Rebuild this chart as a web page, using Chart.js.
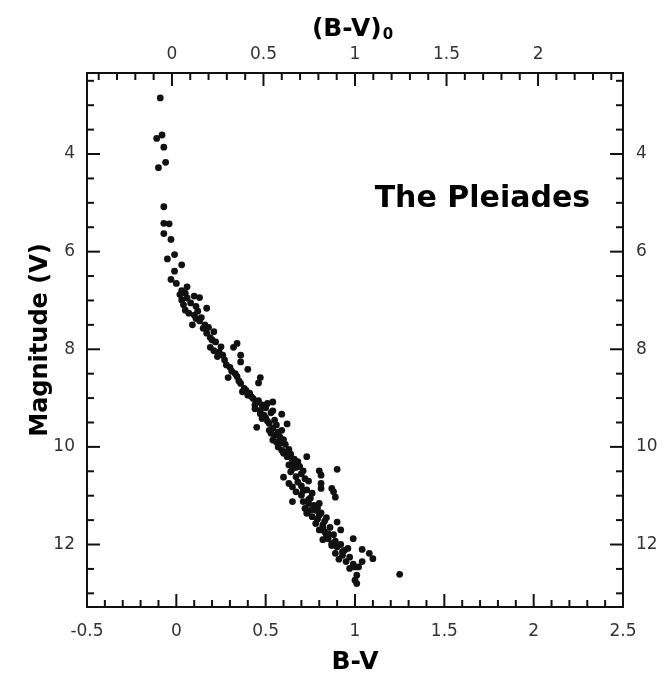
<!DOCTYPE html>
<html>
<head>
<meta charset="utf-8">
<title>The Pleiades</title>
<script src="https://cdn.jsdelivr.net/npm/chart.js@4.4.1/dist/chart.umd.min.js"></script>
<style>
  body { margin: 0; background: #fff; }
  canvas { display: block; }
</style>
</head>
<body>
<canvas id="cmd" width="669" height="677"></canvas>
<script>
// B-V colour and V magnitude
const bv = [
  -0.09, -0.08, -0.11, -0.07, -0.06, -0.10, -0.07, -0.07, -0.04, -0.07,
  -0.03, -0.01, -0.05, 0.03, -0.01, -0.03, 0.00, 0.06, 0.03, 0.05,
  0.10, 0.13, 0.03, 0.04, 0.17, 0.05, 0.07, 0.10, 0.11, 0.13,
  0.09, 0.16, 0.15, 0.21, 0.17, 0.19, 0.20, 0.34, 0.32, 0.19,
  0.21, 0.24, 0.26, 0.36, 0.27, 0.36, 0.28, 0.30, 0.40, 0.29,
  0.34, 0.47, 0.46, 0.36, 0.38, 0.37, 0.40, 0.39, 0.43, 0.45,
  0.54, 0.44, 0.48, 0.51, 0.47, 0.54, 0.49, 0.59, 0.48, 0.51,
  0.62, 0.52, 0.45, 0.54, 0.59, 0.52, 0.55, 0.54, 0.56, 0.57,
  0.59, 0.60, 0.73, 0.62, 0.65, 0.66, 0.63, 0.67, 0.71, 0.80,
  0.90, 0.64, 0.81, 0.67, 0.60, 0.63, 0.81, 0.65, 0.81, 0.87,
  0.67, 0.88, 0.70, 0.89, 0.65, 0.71, 0.74, 0.80, 0.72, 0.75,
  0.78, 0.73, 0.80, 0.76, 0.90, 0.78, 0.82, 0.92, 0.80, 0.83,
  0.99, 0.85, 0.82, 0.87, 0.90, 0.96, 1.04, 0.89, 1.08, 0.93,
  0.97, 1.10, 1.04, 1.02, 0.97, 1.00, 1.25, 1.01, 1.00, 1.01,
  0.08, 0.12, 0.14, 0.18, 0.22, 0.25, 0.23, 0.31, 0.33, 0.35,
  0.41, 0.42, 0.46, 0.50, 0.53, 0.50, 0.55, 0.56, 0.57, 0.58,
  0.60, 0.61, 0.63, 0.64, 0.66, 0.68, 0.69, 0.70, 0.72, 0.74,
  0.70, 0.73, 0.76, 0.75, 0.77, 0.79, 0.81, 0.84, 0.83, 0.86,
  0.88, 0.84, 0.89, 0.92, 0.94, 0.91, 0.95, 0.99,
  0.02, 0.06, 0.11, 0.44, 0.47, 0.53, 0.58, 0.61, 0.65, 0.68,
  0.71, 0.74, 0.77, 0.79, 0.82, 0.85, 0.87, 0.93
];
const vmag = [
  2.85, 3.61, 3.68, 3.86, 4.17, 4.28, 5.08, 5.42, 5.43, 5.63,
  5.75, 6.06, 6.15, 6.27, 6.40, 6.57, 6.65, 6.72, 6.80, 6.85,
  6.91, 6.94, 6.99, 7.09, 7.16, 7.20, 7.26, 7.30, 7.37, 7.42,
  7.50, 7.50, 7.57, 7.64, 7.67, 7.76, 7.81, 7.88, 7.96, 7.96,
  8.03, 8.06, 8.12, 8.12, 8.22, 8.26, 8.32, 8.37, 8.41, 8.58,
  8.56, 8.58, 8.69, 8.70, 8.80, 8.87, 8.94, 8.84, 9.01, 9.08,
  9.08, 9.14, 9.14, 9.11, 9.25, 9.26, 9.35, 9.33, 9.42, 9.47,
  9.53, 9.52, 9.60, 9.62, 9.66, 9.66, 9.76, 9.86, 9.90, 10.00,
  10.07, 10.13, 10.20, 10.20, 10.27, 10.34, 10.37, 10.42, 10.49, 10.49,
  10.46, 10.51, 10.58, 10.61, 10.62, 10.75, 10.75, 10.82, 10.85, 10.85,
  10.92, 10.92, 10.99, 11.03, 11.12, 11.12, 11.16, 11.16, 11.26, 11.30,
  11.30, 11.36, 11.40, 11.43, 11.54, 11.57, 11.60, 11.70, 11.70, 11.74,
  11.88, 11.88, 11.90, 11.98, 12.05, 12.08, 12.10, 12.18, 12.18, 12.22,
  12.26, 12.29, 12.35, 12.46, 12.49, 12.46, 12.61, 12.63, 12.73, 12.80,
  7.05, 7.22, 7.35, 7.55, 7.85, 7.95, 8.15, 8.45, 8.50, 8.65,
  8.90, 8.97, 9.05, 9.20, 9.30, 9.40, 9.45, 9.55, 9.70, 9.80,
  9.85, 9.95, 10.05, 10.15, 10.25, 10.30, 10.40, 10.55, 10.65, 10.70,
  10.80, 10.88, 10.95, 11.05, 11.20, 11.25, 11.35, 11.45, 11.52, 11.65,
  11.80, 11.82, 11.93, 12.00, 12.12, 12.30, 12.35, 12.40,
  6.88, 6.95, 7.12, 9.22, 9.32, 9.72, 9.92, 10.10, 10.45, 10.72,
  10.90, 11.08, 11.22, 11.48, 11.66, 11.78, 12.02, 12.15
];

const xTicks = { min: -0.5, max: 2.5, step: 0.5, minor: 0.1 };
const xTopTicks = { min: -0.464, max: 2.464, step: 0.5, minor: 0.1 }; // (B-V)0 axis
const yTicks = { min: 2.34, max: 13.28, step: 2, minor: 0.5 };

const FONT = "'DejaVu Sans', 'Liberation Sans', Arial, sans-serif";
const tickFont = { family: FONT, size: 17 };
const titleFont = { family: FONT, size: 25, weight: 'bold' };
const fmt = v => String(Number(v.toFixed(2)));

const points = bv.map((x, i) => ({ x: x, y: vmag[i] }));

// box around the plot, inward ticks, top title with subscript, annotation
const framePlugin = {
  id: 'frame',
  afterDraw(chart) {
    const { ctx, chartArea: a, scales } = chart;
    ctx.save();
    ctx.strokeStyle = '#111';
    ctx.lineWidth = 2;
    ctx.strokeRect(a.left, a.top, a.right - a.left, a.bottom - a.top);

    const line = (x1, y1, x2, y2) => {
      ctx.beginPath(); ctx.moveTo(x1, y1); ctx.lineTo(x2, y2); ctx.stroke();
    };
    const eps = 1e-6;
    // bottom axis
    for (let v = Math.ceil(xTicks.min / xTicks.minor) * xTicks.minor; v <= xTicks.max + eps; v += xTicks.minor) {
      const px = scales.x.getPixelForValue(v);
      const major = Math.abs(v / xTicks.step - Math.round(v / xTicks.step)) < 1e-4;
      line(px, a.bottom, px, a.bottom - (major ? 13 : 7));
    }
    // top axis
    for (let v = Math.ceil(xTopTicks.min / xTopTicks.minor) * xTopTicks.minor; v <= xTopTicks.max + eps; v += xTopTicks.minor) {
      const px = scales.x2.getPixelForValue(v);
      const major = Math.abs(v / xTopTicks.step - Math.round(v / xTopTicks.step)) < 1e-4;
      line(px, a.top, px, a.top + (major ? 13 : 7));
    }
    // left and right axes
    for (let v = Math.ceil(yTicks.min / yTicks.minor) * yTicks.minor; v <= yTicks.max + eps; v += yTicks.minor) {
      const py = scales.y.getPixelForValue(v);
      const major = Math.abs(v / yTicks.step - Math.round(v / yTicks.step)) < 1e-4;
      const len = major ? 13 : 7;
      line(a.left, py, a.left + len, py);
      line(a.right, py, a.right - len, py);
    }

    // top axis title (B-V)0
    ctx.fillStyle = '#000';
    ctx.textBaseline = 'alphabetic';
    ctx.textAlign = 'left';
    ctx.font = 'bold 25px ' + FONT;
    const main = '(B-V)';
    const wMain = ctx.measureText(main).width;
    ctx.font = 'bold 15px ' + FONT;
    const wSub = ctx.measureText('0').width;
    const x0 = 352 - (wMain + wSub) / 2;
    ctx.font = 'bold 25px ' + FONT;
    ctx.fillText(main, x0, 36);
    ctx.font = 'bold 15px ' + FONT;
    ctx.fillText('0', x0 + wMain + 1, 39);

    // annotation
    ctx.font = 'bold 30px ' + FONT;
    ctx.fillText('The Pleiades', scales.x.getPixelForValue(1.11), scales.y.getPixelForValue(5.09));
    ctx.restore();
  }
};

const hidden = { display: false, drawTicks: false };

new Chart(document.getElementById('cmd'), {
  type: 'scatter',
  data: {
    datasets: [{
      data: points,
      xAxisID: 'x',
      yAxisID: 'y',
      backgroundColor: '#111',
      borderWidth: 0,
      pointRadius: 3.4,
      pointHoverRadius: 3.4
    }]
  },
  options: {
    responsive: false,
    devicePixelRatio: 1,
    animation: false,
    layout: { padding: 0 },
    plugins: { legend: { display: false }, tooltip: { enabled: false } },
    scales: {
      x: {
        type: 'linear', position: 'bottom',
        min: xTicks.min, max: xTicks.max,
        grid: hidden, border: { display: false },
        ticks: { stepSize: xTicks.step, includeBounds: false, font: tickFont, color: '#333', padding: 14, maxRotation: 0, autoSkip: false, callback: fmt },
        title: { display: true, text: 'B-V', font: titleFont, color: '#000', padding: { top: 0, bottom: 0 } },
        afterFit(s) { s.height = 70; }
      },
      x2: {
        type: 'linear', position: 'top',
        min: xTopTicks.min, max: xTopTicks.max,
        grid: hidden, border: { display: false },
        ticks: { stepSize: xTopTicks.step, includeBounds: false, font: tickFont, color: '#333', padding: 8, maxRotation: 0, autoSkip: false, callback: fmt },
        afterFit(s) { s.height = 73; }
      },
      y: {
        type: 'linear', position: 'left', reverse: true,
        min: yTicks.min, max: yTicks.max,
        grid: hidden, border: { display: false },
        ticks: { stepSize: yTicks.step, includeBounds: false, font: tickFont, color: '#333', padding: 12, callback: fmt },
        title: { display: true, text: 'Magnitude (V)', font: { family: FONT, size: 24, weight: 'bold' }, color: '#000', padding: { top: 26, bottom: 0 } },
        afterFit(s) { s.width = 87; }
      },
      y2: {
        type: 'linear', position: 'right', reverse: true,
        min: yTicks.min, max: yTicks.max,
        grid: hidden, border: { display: false },
        ticks: { stepSize: yTicks.step, includeBounds: false, font: tickFont, color: '#333', padding: 13, callback: fmt },
        afterFit(s) { s.width = 46; }
      }
    }
  },
  plugins: [framePlugin]
});
</script>
</body>
</html>
